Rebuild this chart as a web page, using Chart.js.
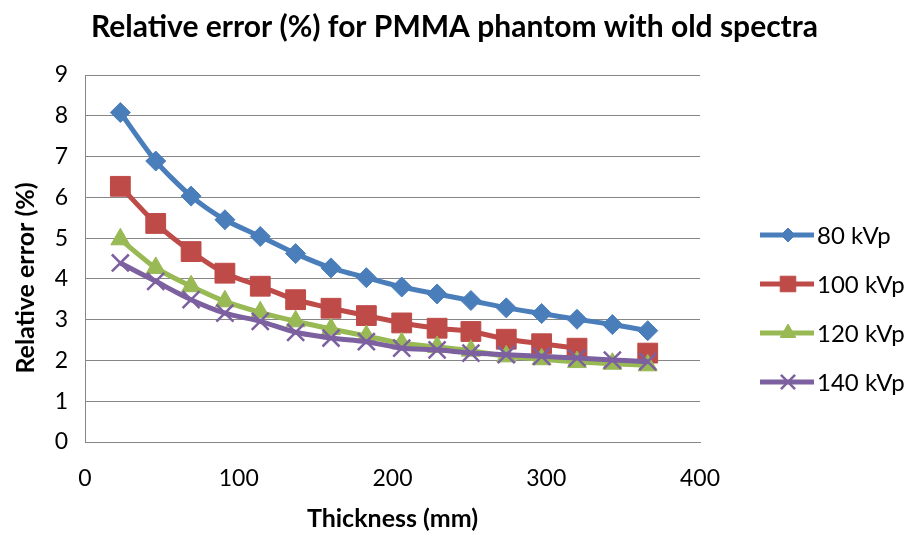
<!DOCTYPE html>
<html>
<head>
<meta charset="utf-8">
<script src="https://cdn.jsdelivr.net/npm/chart.js@4"></script>
<style>
  html, body { margin: 0; padding: 0; background: #fff; }
  #wrap { width: 909px; height: 534px; position: relative; }
</style>
</head>
<body>
<div id="wrap"><canvas id="chart"></canvas></div>
<script>
// thickness in mm (x axis)
const thickness = [23, 46, 69, 91, 114, 137, 160, 183, 206, 229, 251, 274, 297, 320, 343, 366];

// relative error (%) per tube voltage
const err80 = [8.08, 6.89, 6.03, 5.45, 5.04, 4.62, 4.27, 4.03, 3.80, 3.63, 3.47, 3.29, 3.15, 3.01, 2.88, 2.73];
const err100 = [6.27, 5.36, 4.67, 4.14, 3.82, 3.49, 3.28, 3.10, 2.92, 2.79, 2.71, 2.52, 2.41, 2.30, null, 2.18];
const err120 = [4.97, 4.27, 3.82, 3.45, 3.18, 2.96, 2.77, 2.60, 2.42, 2.33, 2.24, 2.10, 2.03, 1.96, 1.92, 1.88];
const err140 = [4.39, 3.94, 3.49, 3.16, 2.96, 2.69, 2.55, 2.46, 2.30, 2.26, 2.18, 2.14, 2.10, 2.06, 2.01, 1.97];

const seriesNames = ['80 kVp', '100 kVp', '120 kVp', '140 kVp'];
const xTicks = [0, 100, 200, 300, 400];
const yTicks = [0, 1, 2, 3, 4, 5, 6, 7, 8, 9];

const FONT = 'Lato';

const toPoints = (vals) => thickness.map((t, i) => ({ x: t, y: vals[i] }));

const ctx = document.getElementById('chart');

// legend on the right + rotated y title, drawn by hand
const sideLegend = {
  id: 'sideLegend',
  afterDraw(chart) {
    const c = chart.ctx;
    c.save();
    chart.data.datasets.forEach((ds, i) => {
      const y = 235 + i * 49;
      c.strokeStyle = ds.borderColor;
      c.lineWidth = 5;
      c.beginPath();
      c.moveTo(760, y);
      c.lineTo(814, y);
      c.stroke();
      c.fillStyle = ds.pointBackgroundColor;
      c.strokeStyle = ds.pointBorderColor;
      c.lineWidth = ds.pointBorderWidth;
      Chart.helpers.drawPoint(c, {
        pointStyle: ds.pointStyle,
        radius: ds.legendRadius,
        borderWidth: ds.pointBorderWidth,
        rotation: 0
      }, 788, y);
      c.fillStyle = '#000';
      c.font = '24px ' + FONT;
      c.textAlign = 'left';
      c.textBaseline = 'middle';
      c.fillText(ds.label, 817, y + 1);
    });

    c.translate(26, 278);
    c.rotate(-Math.PI / 2);
    c.fillStyle = '#000';
    c.font = 'bold 25px ' + FONT;
    c.textAlign = 'center';
    c.textBaseline = 'middle';
    c.fillText('Relative error (%)', 0, 0);
    c.restore();
  }
};

const myChart = new Chart(ctx, {
  type: 'line',
  data: {
    datasets: [
      {
        label: seriesNames[0],
        data: toPoints(err80),
        borderColor: '#4A7EBB',
        backgroundColor: '#4A7EBB',
        pointBackgroundColor: '#4A7EBB',
        pointBorderColor: '#4A7EBB',
        pointStyle: 'rectRot',
        pointRadius: 10,
        legendRadius: 7,
        pointBorderWidth: 1,
        order: 4
      },
      {
        label: seriesNames[1],
        data: toPoints(err100),
        borderColor: '#BE4B48',
        backgroundColor: '#BE4B48',
        pointBackgroundColor: '#BE4B48',
        pointBorderColor: '#BE4B48',
        pointStyle: 'rect',
        pointRadius: 14,
        legendRadius: 11,
        pointBorderWidth: 1,
        order: 3
      },
      {
        label: seriesNames[2],
        data: toPoints(err120),
        borderColor: '#98B954',
        backgroundColor: '#98B954',
        pointBackgroundColor: '#98B954',
        pointBorderColor: '#98B954',
        pointStyle: 'triangle',
        pointRadius: 11,
        legendRadius: 9,
        pointBorderWidth: 1,
        order: 2
      },
      {
        label: seriesNames[3],
        data: toPoints(err140),
        borderColor: '#7D60A0',
        backgroundColor: '#7D60A0',
        pointBackgroundColor: '#7D60A0',
        pointBorderColor: '#7D60A0',
        pointStyle: 'crossRot',
        pointRadius: 12,
        legendRadius: 10,
        pointBorderWidth: 2.5,
        order: 1
      }
    ]
  },
  options: {
    responsive: true,
    maintainAspectRatio: false,
    animation: false,
    layout: { padding: 0 },
    elements: {
      line: { borderWidth: 5, tension: 0.25 },
      point: { hoverRadius: 12 }
    },
    spanGaps: false,
    scales: {
      x: {
        type: 'linear',
        min: 0,
        max: 400,
        afterBuildTicks: s => { s.ticks = xTicks.map(v => ({ value: v })); },
        afterFit: s => { s.height = 92; },
        grid: { display: false, drawTicks: false },
        border: { display: true, color: '#868686', width: 1 },
        ticks: { color: '#000', padding: 23, font: { family: FONT, size: 23 } },
        title: {
          display: true,
          text: 'Thickness (mm)',
          color: '#000',
          font: { family: FONT, size: 25, weight: 'bold' },
          padding: { top: 0, bottom: 0 }
        }
      },
      y: {
        min: 0,
        max: 9,
        afterBuildTicks: s => { s.ticks = yTicks.map(v => ({ value: v })); },
        afterFit: s => { s.width = 85; },
        grid: { color: '#868686', lineWidth: 1, drawTicks: false },
        border: { display: true, color: '#868686', width: 1 },
        ticks: { color: '#000', padding: 17, font: { family: FONT, size: 23 } }
      },
      // empty right-hand box that keeps room for the legend
      side: {
        position: 'right',
        display: true,
        min: 0,
        max: 1,
        afterFit: s => { s.width = 209; },
        grid: { display: false, drawTicks: false },
        border: { display: false },
        ticks: { display: false }
      }
    },
    plugins: {
      legend: { display: false },
      tooltip: { enabled: false },
      title: {
        display: true,
        text: 'Relative error (%) for PMMA phantom with old spectra',
        color: '#000',
        font: { family: FONT, size: 30, weight: 'bold' },
        padding: { top: 9, bottom: 30 }
      }
    }
  },
  plugins: [sideLegend]
});
</script>
</body>
</html>
